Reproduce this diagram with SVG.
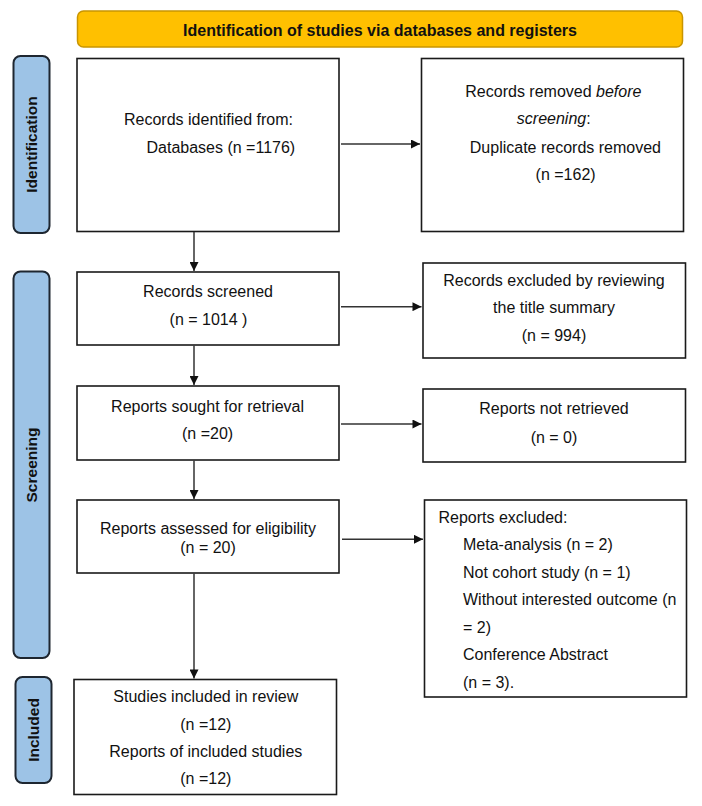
<svg xmlns="http://www.w3.org/2000/svg" width="702" height="806" viewBox="0 0 702 806">
<defs>
<style>
.box{fill:#fff;stroke:#1a1a1a;stroke-width:1.6}
.lab{fill:#9DC3E6;stroke:#1e2630;stroke-width:2}
.ban{fill:#FFC000;stroke:#C99500;stroke-width:1.5}
.t{font-family:"Liberation Sans",Arial,sans-serif;font-size:16px;fill:#111}
.m{text-anchor:middle}
.b{font-family:"Liberation Sans",Arial,sans-serif;font-weight:bold;fill:#111;text-anchor:middle}
.c{fill:none;stroke:#333;stroke-width:1.5;marker-end:url(#ah)}
</style>
<marker id="ah" viewBox="0 0 10 10" refX="10" refY="5" markerWidth="10" markerHeight="9" markerUnits="userSpaceOnUse" orient="auto">
<path d="M0,0 L10,5 L0,10 Z" fill="#111"/>
</marker>
</defs>
<rect width="702" height="806" fill="#fff"/>

<g id="banner">
<rect class="ban" x="77.5" y="11" width="605" height="36" rx="6"/>
<text class="b" x="380" y="36" font-size="16">Identification of studies via databases and registers</text>
</g>

<g id="label-identification">
<rect class="lab" x="13.5" y="56" width="36" height="177" rx="7"/>
<text class="b" font-size="15.5" transform="translate(37,144.5) rotate(-90)">Identification</text>
</g>
<g id="label-screening">
<rect class="lab" x="13.5" y="271.5" width="36" height="386.5" rx="7"/>
<text class="b" font-size="15.5" transform="translate(37,465) rotate(-90)">Screening</text>
</g>
<g id="label-included">
<rect class="lab" x="15.5" y="677" width="36" height="106" rx="7"/>
<text class="b" font-size="15.5" transform="translate(39,730) rotate(-90)">Included</text>
</g>

<g id="records-identified">
<rect class="box" x="77" y="58.5" width="262" height="173"/>
<text class="t" x="124" y="125">Records identified from:</text>
<text class="t" x="146.5" y="152.7">Databases (n =1176)</text>
</g>

<g id="records-removed">
<rect class="box" x="421.5" y="58.5" width="262" height="173"/>
<text class="t" x="465.3" y="96.7">Records removed <tspan font-style="italic">before</tspan></text>
<text class="t" x="516.8" y="124"><tspan font-style="italic">screening</tspan>:</text>
<text class="t" x="469.8" y="152.7">Duplicate records removed</text>
<text class="t" x="535.6" y="180">(n =162)</text>
</g>

<g id="records-screened">
<rect class="box" x="77" y="272" width="262" height="73"/>
<text class="t m" x="208" y="296.7">Records screened</text>
<text class="t m" x="208.5" y="325">(n = 1014 )</text>
</g>

<g id="records-excluded">
<rect class="box" x="423" y="263" width="262.5" height="95"/>
<text class="t m" x="554" y="286">Records excluded by reviewing</text>
<text class="t m" x="554" y="313.3">the title summary</text>
<text class="t m" x="554" y="341">(n = 994)</text>
</g>

<g id="reports-sought">
<rect class="box" x="77" y="386" width="262" height="74"/>
<text class="t m" x="207.6" y="412">Reports sought for retrieval</text>
<text class="t m" x="207.6" y="439.3">(n =20)</text>
</g>

<g id="reports-not-retrieved">
<rect class="box" x="423" y="389" width="262.5" height="73"/>
<text class="t m" x="554" y="414.3">Reports not retrieved</text>
<text class="t m" x="554" y="442.7">(n = 0)</text>
</g>

<g id="reports-assessed">
<rect class="box" x="77" y="500" width="262" height="73"/>
<text class="t m" x="208" y="534.3">Reports assessed for eligibility</text>
<text class="t m" x="208" y="552.7">(n = 20)</text>
</g>

<g id="reports-excluded">
<rect class="box" x="424.5" y="500" width="262" height="197"/>
<text class="t" x="438.5" y="522.7">Reports excluded:</text>
<text class="t" x="463" y="550.3">Meta-analysis (n = 2)</text>
<text class="t" x="463" y="577.7">Not cohort study (n = 1)</text>
<text class="t" x="463" y="605">Without interested outcome (n</text>
<text class="t" x="463" y="632.7">= 2)</text>
<text class="t" x="463" y="660">Conference Abstract</text>
<text class="t" x="463" y="687.7">(n = 3).</text>
</g>

<g id="studies-included">
<rect class="box" x="74" y="679.5" width="262.5" height="115"/>
<text class="t m" x="205.8" y="702">Studies included in review</text>
<text class="t m" x="205.8" y="730">(n =12)</text>
<text class="t m" x="205.8" y="756.7">Reports of included studies</text>
<text class="t m" x="205.8" y="784.3">(n =12)</text>
</g>

<g id="connectors">
<line class="c" x1="341" y1="144" x2="420" y2="144"/>
<line class="c" x1="341" y1="306.7" x2="421.5" y2="306.7"/>
<line class="c" x1="341" y1="424" x2="421.5" y2="424"/>
<line class="c" x1="342" y1="539.3" x2="423" y2="539.3"/>
<line class="c" x1="194" y1="232" x2="194" y2="271"/>
<line class="c" x1="194" y1="345.5" x2="194" y2="385"/>
<line class="c" x1="194" y1="460.5" x2="194" y2="499"/>
<line class="c" x1="194" y1="573.5" x2="194" y2="678.5"/>
</g>
</svg>
